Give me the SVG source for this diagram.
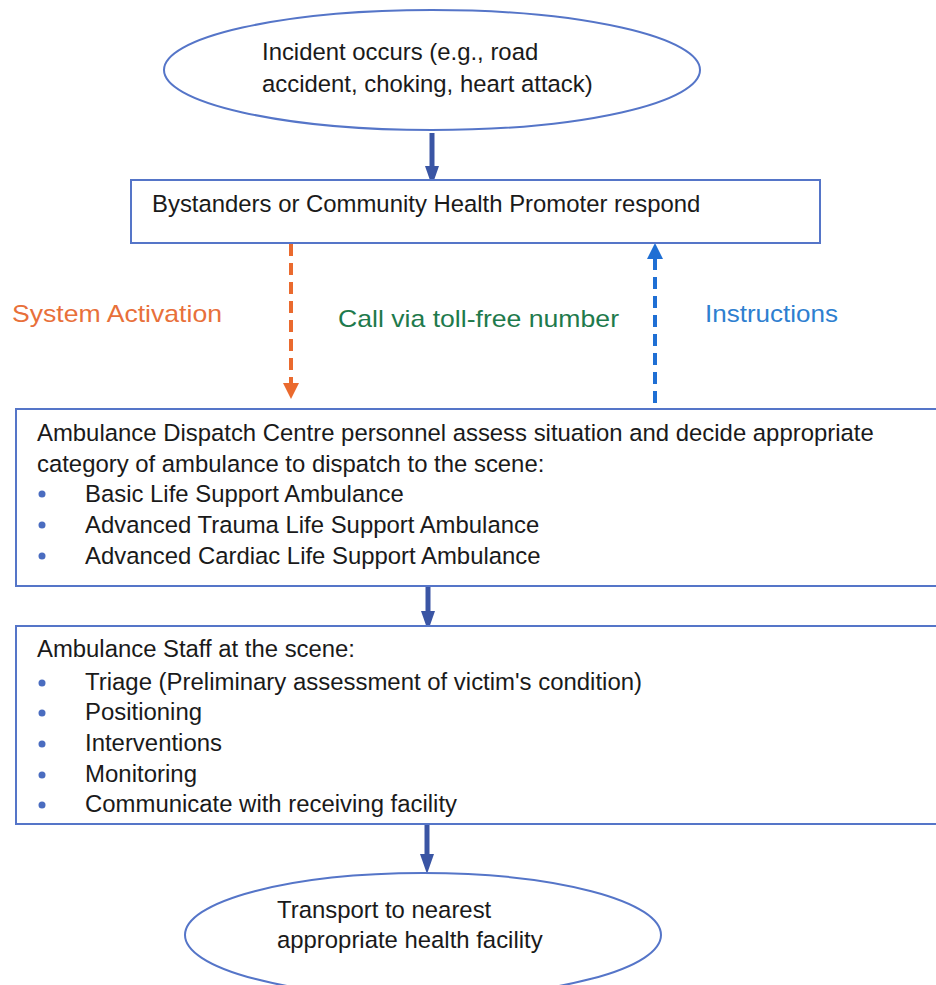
<svg xmlns="http://www.w3.org/2000/svg" width="936" height="985" viewBox="0 0 936 985">
<style>
.node{fill:#fff;stroke:#5575C8;stroke-width:2}
.t{font-family:"Liberation Sans",Arial,sans-serif;font-size:23.9px;fill:#1a1a1a}
.n{font-family:"Liberation Sans",Arial,sans-serif;font-size:23px;fill:#1a1a1a}
.bul{fill:#4A6CC0}
.solid{stroke:#3A55A4;stroke-width:5;fill:none}
.lbl{font-family:"Liberation Sans",Arial,sans-serif;font-size:24px}
</style>
<defs>
<marker id="hs" markerWidth="4" markerHeight="4" refX="2" refY="2" orient="auto" markerUnits="strokeWidth"><path d="M0,0.6 L4,2 L0,3.4 Z" fill="#3A55A4"/></marker>
<marker id="ho" markerWidth="5" markerHeight="5" refX="0" refY="2" orient="auto" markerUnits="strokeWidth"><path d="M0,0 L4,2 L0,4 Z" fill="#EA6A2E"/></marker>
<marker id="hb" markerWidth="5" markerHeight="5" refX="0" refY="2" orient="auto" markerUnits="strokeWidth"><path d="M0,0 L4,2 L0,4 Z" fill="#1F6FD4"/></marker>
</defs>
<rect width="936" height="985" fill="#fff"/>

<g id="connectors">
<line class="solid" x1="432" y1="133" x2="432" y2="176" marker-end="url(#hs)"/>
<line x1="291" y1="244" x2="291" y2="383" stroke="#EA6A2E" stroke-width="4" stroke-dasharray="12,7" marker-end="url(#ho)"/>
<line x1="655" y1="403" x2="655" y2="259" stroke="#1F6FD4" stroke-width="4" stroke-dasharray="12,7" marker-end="url(#hb)"/>
<line class="solid" x1="428" y1="587" x2="428" y2="621" marker-end="url(#hs)"/>
<line class="solid" x1="427" y1="825" x2="427" y2="864" marker-end="url(#hs)"/>
<text class="lbl" x="12" y="322" fill="#E8703A" textLength="210" lengthAdjust="spacingAndGlyphs">System Activation</text>
<text class="lbl" x="338" y="327" fill="#1E7A4C" textLength="281" lengthAdjust="spacingAndGlyphs">Call via toll-free number</text>
<text class="lbl" x="705" y="322" fill="#2E7FD0" textLength="133" lengthAdjust="spacingAndGlyphs">Instructions</text>
</g>

<g id="incident">
<ellipse class="node" cx="432" cy="70" rx="268" ry="60"/>
<text class="t" x="262" y="60">Incident occurs (e.g., road</text>
<text class="t" x="262" y="92">accident, choking, heart attack)</text>
</g>

<g id="bystanders">
<rect class="node" x="131" y="180" width="689" height="63"/>
<text class="t" x="152" y="212">Bystanders or Community Health Promoter respond</text>
</g>

<g id="dispatch">
<rect class="node" x="16" y="409" width="930" height="177"/>
<text class="t" x="37" y="441">Ambulance Dispatch Centre personnel assess situation and decide appropriate</text>
<text class="t" x="37" y="472">category of ambulance to dispatch to the scene:</text>
<circle class="bul" cx="42" cy="494" r="3.5"/>
<text class="t" x="85" y="502">Basic Life Support Ambulance</text>
<circle class="bul" cx="42" cy="525" r="3.5"/>
<text class="t" x="85" y="533">Advanced Trauma Life Support Ambulance</text>
<circle class="bul" cx="42" cy="556" r="3.5"/>
<text class="t" x="85" y="564">Advanced Cardiac Life Support Ambulance</text>
</g>

<g id="staff">
<rect class="node" x="16" y="626" width="930" height="198"/>
<text class="n" x="37" y="657" textLength="318" lengthAdjust="spacingAndGlyphs">Ambulance Staff at the scene:</text>
<circle class="bul" cx="42" cy="683" r="3.5"/>
<text class="n" x="85" y="690" textLength="557" lengthAdjust="spacingAndGlyphs">Triage (Preliminary assessment of victim's condition)</text>
<circle class="bul" cx="42" cy="713" r="3.5"/>
<text class="n" x="85" y="720" textLength="117" lengthAdjust="spacingAndGlyphs">Positioning</text>
<circle class="bul" cx="42" cy="744" r="3.5"/>
<text class="n" x="85" y="751" textLength="137" lengthAdjust="spacingAndGlyphs">Interventions</text>
<circle class="bul" cx="42" cy="775" r="3.5"/>
<text class="n" x="85" y="782" textLength="112" lengthAdjust="spacingAndGlyphs">Monitoring</text>
<circle class="bul" cx="42" cy="805" r="3.5"/>
<text class="n" x="85" y="812" textLength="372" lengthAdjust="spacingAndGlyphs">Communicate with receiving facility</text>
</g>

<g id="transport">
<ellipse class="node" cx="423" cy="935" rx="238" ry="62"/>
<text class="t" x="277" y="918">Transport to nearest</text>
<text class="t" x="277" y="948">appropriate health facility</text>
</g>
</svg>
